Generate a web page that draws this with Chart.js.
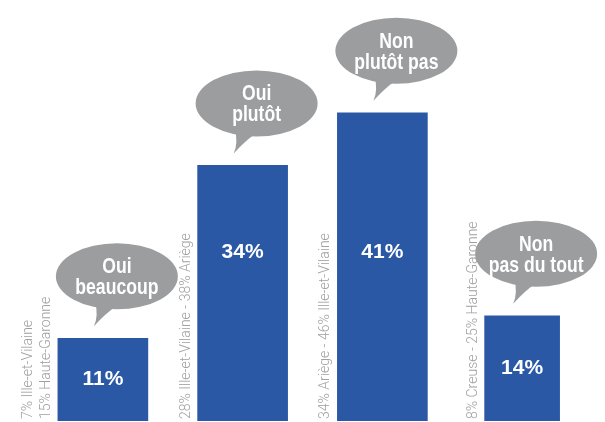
<!DOCTYPE html>
<html>
<head>
<meta charset="utf-8">
<script src="https://cdn.jsdelivr.net/npm/chart.js@4.4.1/dist/chart.umd.min.js"></script>
<style>
  html, body { margin: 0; padding: 0; background: #fff; }
  #wrap { width: 605px; height: 422px; }
</style>
</head>
<body>
<div id="wrap"><canvas id="chart"></canvas></div>
<script>
// answers shown in the speech bubbles (one line per entry)
const categories = [
  ['Oui', 'beaucoup'],
  ['Oui', 'plutôt'],
  ['Non', 'plutôt pas'],
  ['Non', 'pas du tout']
];
// share of answers, in %
const values = [11, 34, 41, 14];
// vertical range notes next to each bar
const details = [
  ['7% Ille-et-Vilaine', '15% Haute-Garonne'],
  ['28% Ille-et-Vilaine - 38% Ariège'],
  ['34% Ariège - 46% Ille-et-Vilaine'],
  ['8% Creuse - 25% Haute-Garonne']
];
const valueLabels = values.map(v => v + '%');

const BLUE = '#2a58a5';
const BUBBLE = '#9c9d9f';

// the last bar is narrower than the others in the original
const wideBars = values.map((v, i) => (i < 3 ? v : null));
const narrowBars = values.map((v, i) => (i === 3 ? v : null));

function elementAt(chart, i) {
  const meta = chart.getDatasetMeta(i < 3 ? 0 : 1);
  return meta.data[i];
}

const decorations = {
  id: 'decorations',
  afterDatasetsDraw(chart) {
    const ctx = chart.ctx;
    const yScale = chart.scales.y;
    const capY = yScale.getPixelForValue(22.5);

    values.forEach((v, i) => {
      const el = elementAt(chart, i);
      if (!el) return;
      const left = el.x - el.width / 2;

      // value inside the bar (tall bars keep it at a fixed height)
      ctx.save();
      ctx.fillStyle = '#ffffff';
      ctx.font = 'bold 21px "Liberation Sans", Arial, sans-serif';
      ctx.textAlign = 'center';
      ctx.textBaseline = 'middle';
      const ly = el.y < capY ? capY : (el.y + el.base) / 2;
      ctx.fillText(valueLabels[i], el.x, ly);
      ctx.restore();

      // rotated range notes left of the bar
      const lines = details[i];
      ctx.save();
      ctx.fillStyle = '#a0a0a0';
      ctx.font = '300 14px Roboto, "Liberation Sans", sans-serif';
      ctx.textAlign = 'left';
      ctx.textBaseline = 'alphabetic';
      lines.forEach((txt, j) => {
        const bx = left - 8 - (lines.length - 1 - j) * 18;
        ctx.save();
        ctx.translate(bx, el.base - 2);
        ctx.rotate(-Math.PI / 2);
        ctx.fillText(txt, 0, 0);
        ctx.restore();
      });
      ctx.restore();

      // speech bubble above the bar
      const cx = el.x + 14, cy = el.y - 62;
      const rx = 61, ry = 33;
      const tipX = el.x - 9, tipY = el.y - 12;
      ctx.save();
      ctx.fillStyle = BUBBLE;
      ctx.beginPath();
      ctx.ellipse(cx, cy, rx, ry, 0, 0, Math.PI * 2);
      ctx.fill();
      ctx.beginPath();
      ctx.moveTo(cx - 22, cy + 24);
      ctx.quadraticCurveTo(cx - 18, cy + 40, tipX, tipY);
      ctx.quadraticCurveTo(cx - 10, cy + 36, cx - 2, cy + 31);
      ctx.closePath();
      ctx.fill();

      ctx.fillStyle = '#ffffff';
      ctx.font = 'bold 22px "Liberation Sans Narrow", "Liberation Sans", sans-serif';
      ctx.textAlign = 'center';
      ctx.textBaseline = 'alphabetic';
      const words = categories[i];
      const lh = 21;
      const firstBase = cy - 3 - (words.length - 2) * lh / 2;
      words.forEach((w, j) => {
        ctx.save();
        ctx.translate(cx, firstBase + j * lh);
        ctx.scale(0.8, 1);
        ctx.fillText(w, 0, 0);
        ctx.restore();
      });
      ctx.restore();
    });
  }
};

new Chart(document.getElementById('chart'), {
  type: 'bar',
  data: {
    labels: categories.map(c => c.join(' ')),
    datasets: [
      {
        data: wideBars,
        backgroundColor: BLUE,
        barThickness: 90,
        grouped: false
      },
      {
        data: narrowBars,
        backgroundColor: BLUE,
        barThickness: 75,
        grouped: false
      }
    ]
  },
  options: {
    responsive: true,
    maintainAspectRatio: false,
    animation: false,
    layout: { padding: { left: 33, right: 13, top: 0, bottom: 1 } },
    plugins: {
      legend: { display: false },
      tooltip: { enabled: false }
    },
    scales: {
      x: { display: false },
      y: { display: false, min: 0, max: 56 }
    }
  },
  plugins: [decorations]
});
</script>
</body>
</html>
